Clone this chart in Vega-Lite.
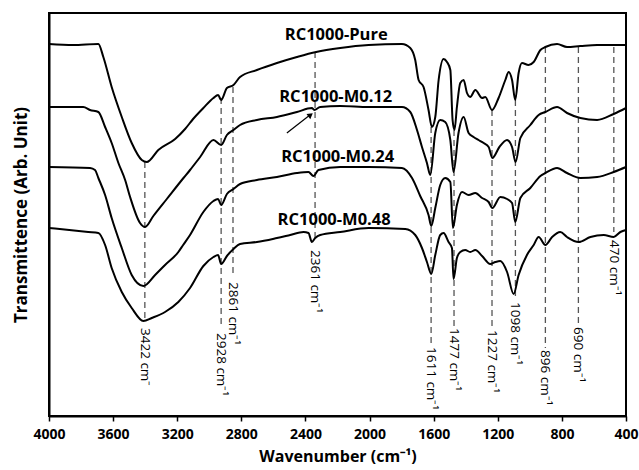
{
  "$schema": "https://vega.github.io/schema/vega-lite/v6.json",
  "width": 577,
  "height": 403,
  "autosize": {"type": "none"},
  "padding": {"left": 49, "top": 13, "right": 13, "bottom": 54},
  "background": "white",
  "config": {
    "view": {"stroke": "black", "strokeWidth": 2},
    "font": "Open Sans"
  },
  "datasets": {
    "spectra": [
      {"c":"P","w":4000,"t":372},{"c":"P","w":3850,"t":371},{"c":"P","w":3692,"t":372},{"c":"P","w":3661,"t":359},{"c":"P","w":3609,"t":329},{"c":"P","w":3546,"t":299},{"c":"P","w":3484,"t":273},{"c":"P","w":3421,"t":256},{"c":"P","w":3390,"t":254},{"c":"P","w":3318,"t":266},{"c":"P","w":3213,"t":277},{"c":"P","w":3151,"t":287},{"c":"P","w":3101,"t":297},{"c":"P","w":3037,"t":308},{"c":"P","w":2974,"t":318},{"c":"P","w":2945,"t":321},{"c":"P","w":2926,"t":316},{"c":"P","w":2890,"t":328},{"c":"P","w":2849,"t":331},{"c":"P","w":2808,"t":339},{"c":"P","w":2703,"t":346},{"c":"P","w":2578,"t":353},{"c":"P","w":2453,"t":359},{"c":"P","w":2333,"t":364},{"c":"P","w":2183,"t":368},{"c":"P","w":2006,"t":371},{"c":"P","w":1798,"t":372},{"c":"P","w":1746,"t":368},{"c":"P","w":1715,"t":356},{"c":"P","w":1694,"t":336},{"c":"P","w":1663,"t":329},{"c":"P","w":1632,"t":306},{"c":"P","w":1611,"t":289},{"c":"P","w":1590,"t":299},{"c":"P","w":1569,"t":336},{"c":"P","w":1538,"t":357},{"c":"P","w":1517,"t":354},{"c":"P","w":1496,"t":346},{"c":"P","w":1482,"t":296},{"c":"P","w":1470,"t":286},{"c":"P","w":1455,"t":309},{"c":"P","w":1434,"t":333},{"c":"P","w":1413,"t":336},{"c":"P","w":1392,"t":323},{"c":"P","w":1372,"t":319},{"c":"P","w":1340,"t":326},{"c":"P","w":1298,"t":318},{"c":"P","w":1278,"t":319},{"c":"P","w":1236,"t":306},{"c":"P","w":1195,"t":318},{"c":"P","w":1153,"t":336},{"c":"P","w":1132,"t":344},{"c":"P","w":1111,"t":336},{"c":"P","w":1091,"t":316},{"c":"P","w":1070,"t":343},{"c":"P","w":1049,"t":353},{"c":"P","w":1008,"t":351},{"c":"P","w":976,"t":354},{"c":"P","w":934,"t":366},{"c":"P","w":903,"t":369},{"c":"P","w":830,"t":372},{"c":"P","w":768,"t":369},{"c":"P","w":685,"t":370},{"c":"P","w":580,"t":371},{"c":"P","w":477,"t":371},{"c":"P","w":400,"t":371},

      {"c":"A","w":4000,"t":309},{"c":"A","w":3786,"t":309},{"c":"A","w":3744,"t":306},{"c":"A","w":3692,"t":304},{"c":"A","w":3650,"t":289},{"c":"A","w":3609,"t":273},{"c":"A","w":3567,"t":253},{"c":"A","w":3525,"t":236},{"c":"A","w":3494,"t":219},{"c":"A","w":3432,"t":193},{"c":"A","w":3401,"t":189},{"c":"A","w":3349,"t":200},{"c":"A","w":3265,"t":217},{"c":"A","w":3161,"t":238},{"c":"A","w":3120,"t":246},{"c":"A","w":3057,"t":259},{"c":"A","w":2974,"t":276},{"c":"A","w":2926,"t":271},{"c":"A","w":2890,"t":281},{"c":"A","w":2849,"t":286},{"c":"A","w":2808,"t":291},{"c":"A","w":2703,"t":296},{"c":"A","w":2578,"t":299},{"c":"A","w":2453,"t":304},{"c":"A","w":2360,"t":308},{"c":"A","w":2345,"t":306},{"c":"A","w":2308,"t":309},{"c":"A","w":2183,"t":310},{"c":"A","w":2006,"t":309},{"c":"A","w":1798,"t":309},{"c":"A","w":1746,"t":304},{"c":"A","w":1704,"t":286},{"c":"A","w":1673,"t":269},{"c":"A","w":1642,"t":253},{"c":"A","w":1621,"t":241},{"c":"A","w":1590,"t":283},{"c":"A","w":1559,"t":296},{"c":"A","w":1528,"t":294},{"c":"A","w":1496,"t":276},{"c":"A","w":1476,"t":244},{"c":"A","w":1445,"t":283},{"c":"A","w":1413,"t":299},{"c":"A","w":1382,"t":283},{"c":"A","w":1351,"t":279},{"c":"A","w":1320,"t":276},{"c":"A","w":1288,"t":273},{"c":"A","w":1257,"t":269},{"c":"A","w":1234,"t":258},{"c":"A","w":1190,"t":269},{"c":"A","w":1142,"t":276},{"c":"A","w":1111,"t":269},{"c":"A","w":1089,"t":254},{"c":"A","w":1059,"t":278},{"c":"A","w":997,"t":291},{"c":"A","w":945,"t":301},{"c":"A","w":903,"t":304},{"c":"A","w":830,"t":309},{"c":"A","w":768,"t":303},{"c":"A","w":685,"t":298},{"c":"A","w":580,"t":296},{"c":"A","w":477,"t":302},{"c":"A","w":400,"t":308},

      {"c":"B","w":4000,"t":249},{"c":"B","w":3744,"t":248},{"c":"B","w":3713,"t":246},{"c":"B","w":3692,"t":238},{"c":"B","w":3650,"t":221},{"c":"B","w":3609,"t":198},{"c":"B","w":3546,"t":168},{"c":"B","w":3484,"t":141},{"c":"B","w":3411,"t":130},{"c":"B","w":3338,"t":141},{"c":"B","w":3276,"t":151},{"c":"B","w":3193,"t":164},{"c":"B","w":3163,"t":171},{"c":"B","w":3120,"t":181},{"c":"B","w":3037,"t":204},{"c":"B","w":2974,"t":215},{"c":"B","w":2945,"t":217},{"c":"B","w":2926,"t":211},{"c":"B","w":2890,"t":222},{"c":"B","w":2849,"t":227},{"c":"B","w":2808,"t":232},{"c":"B","w":2703,"t":236},{"c":"B","w":2578,"t":239},{"c":"B","w":2453,"t":243},{"c":"B","w":2381,"t":244},{"c":"B","w":2350,"t":240},{"c":"B","w":2319,"t":246},{"c":"B","w":2183,"t":249},{"c":"B","w":2006,"t":249},{"c":"B","w":1798,"t":248},{"c":"B","w":1735,"t":238},{"c":"B","w":1684,"t":220},{"c":"B","w":1632,"t":201},{"c":"B","w":1615,"t":190},{"c":"B","w":1590,"t":208},{"c":"B","w":1559,"t":231},{"c":"B","w":1528,"t":238},{"c":"B","w":1496,"t":234},{"c":"B","w":1480,"t":188},{"c":"B","w":1455,"t":211},{"c":"B","w":1423,"t":224},{"c":"B","w":1382,"t":221},{"c":"B","w":1340,"t":223},{"c":"B","w":1298,"t":218},{"c":"B","w":1257,"t":214},{"c":"B","w":1234,"t":208},{"c":"B","w":1184,"t":219},{"c":"B","w":1142,"t":217},{"c":"B","w":1111,"t":213},{"c":"B","w":1091,"t":194},{"c":"B","w":1059,"t":218},{"c":"B","w":997,"t":228},{"c":"B","w":934,"t":240},{"c":"B","w":903,"t":243},{"c":"B","w":830,"t":248},{"c":"B","w":768,"t":243},{"c":"B","w":685,"t":238},{"c":"B","w":580,"t":239},{"c":"B","w":477,"t":244},{"c":"B","w":400,"t":249},

      {"c":"C","w":4000,"t":188},{"c":"C","w":3755,"t":184},{"c":"C","w":3692,"t":183},{"c":"C","w":3650,"t":171},{"c":"C","w":3609,"t":148},{"c":"C","w":3546,"t":124},{"c":"C","w":3484,"t":108},{"c":"C","w":3411,"t":95},{"c":"C","w":3359,"t":98},{"c":"C","w":3276,"t":104},{"c":"C","w":3193,"t":114},{"c":"C","w":3120,"t":128},{"c":"C","w":3037,"t":150},{"c":"C","w":2974,"t":159},{"c":"C","w":2945,"t":161},{"c":"C","w":2926,"t":152},{"c":"C","w":2890,"t":160},{"c":"C","w":2849,"t":167},{"c":"C","w":2808,"t":172},{"c":"C","w":2703,"t":174},{"c":"C","w":2578,"t":178},{"c":"C","w":2495,"t":181},{"c":"C","w":2412,"t":184},{"c":"C","w":2381,"t":183},{"c":"C","w":2360,"t":174},{"c":"C","w":2339,"t":178},{"c":"C","w":2308,"t":181},{"c":"C","w":2183,"t":184},{"c":"C","w":2006,"t":188},{"c":"C","w":1777,"t":187},{"c":"C","w":1715,"t":181},{"c":"C","w":1673,"t":168},{"c":"C","w":1642,"t":154},{"c":"C","w":1615,"t":142},{"c":"C","w":1590,"t":161},{"c":"C","w":1559,"t":181},{"c":"C","w":1538,"t":183},{"c":"C","w":1507,"t":174},{"c":"C","w":1486,"t":168},{"c":"C","w":1476,"t":137},{"c":"C","w":1455,"t":158},{"c":"C","w":1434,"t":164},{"c":"C","w":1403,"t":166},{"c":"C","w":1372,"t":164},{"c":"C","w":1340,"t":166},{"c":"C","w":1298,"t":160},{"c":"C","w":1247,"t":152},{"c":"C","w":1215,"t":154},{"c":"C","w":1184,"t":155},{"c":"C","w":1142,"t":144},{"c":"C","w":1101,"t":122},{"c":"C","w":1070,"t":141},{"c":"C","w":1018,"t":161},{"c":"C","w":976,"t":171},{"c":"C","w":945,"t":179},{"c":"C","w":903,"t":171},{"c":"C","w":861,"t":179},{"c":"C","w":810,"t":184},{"c":"C","w":768,"t":179},{"c":"C","w":695,"t":174},{"c":"C","w":622,"t":179},{"c":"C","w":539,"t":181},{"c":"C","w":477,"t":179},{"c":"C","w":435,"t":184},{"c":"C","w":400,"t":186}
    ],
    "peaks": [
      {"pos":3402,"top":254,"bot":94,"ly":88,"label":"3422 cm⁻"},
      {"pos":2926,"top":318,"bot":89,"ly":83,"label":"2928 cm⁻¹"},
      {"pos":2852,"top":329,"bot":139,"ly":134,"label":"2861 cm⁻¹"},
      {"pos":2340,"top":364,"bot":174,"ly":166,"label":"2361 cm⁻¹"},
      {"pos":1616,"top":289,"bot":71,"ly":69,"label":"1611 cm⁻¹"},
      {"pos":1473,"top":286,"bot":90,"ly":88,"label":"1477 cm⁻¹"},
      {"pos":1236,"top":306,"bot":88,"ly":86,"label":"1227 cm⁻¹"},
      {"pos":1090,"top":316,"bot":120,"ly":114,"label":"1098 cm⁻¹"},
      {"pos":903,"top":369,"bot":68,"ly":66,"label":"896 cm⁻¹"},
      {"pos":697,"top":369,"bot":91,"ly":89,"label":"690 cm⁻¹"},
      {"pos":476,"top":369,"bot":184,"ly":176,"label":"470 cm⁻¹"}
    ],
    "names": [
      {"name":"RC1000-Pure","w":2208,"t":381},
      {"name":"RC1000-M0.12","w":2211,"t":319},
      {"name":"RC1000-M0.24","w":2199,"t":259},
      {"name":"RC1000-M0.48","w":2221,"t":196}
    ],
    "arrow": [
      {"w1":2516,"t1":283,"w2":2372,"t2":301}
    ],
    "head": [
      {"w":2368,"t":301}
    ]
  },
  "layer": [
    {
      "data": {"name": "peaks"},
      "mark": {"type": "rule", "color": "#555555", "strokeWidth": 1.3, "strokeDash": [6, 4]},
      "encoding": {
        "x": {"field": "pos", "type": "quantitative"},
        "y": {"field": "top", "type": "quantitative"},
        "y2": {"field": "bot"}
      }
    },
    {
      "data": {"name": "spectra"},
      "mark": {"type": "line", "color": "black", "strokeWidth": 2, "interpolate": "monotone"},
      "encoding": {
        "x": {
          "field": "w", "type": "quantitative",
          "scale": {"domain": [400, 4000], "reverse": true, "nice": false, "zero": false},
          "axis": {
            "values": [4000,3800,3600,3400,3200,3000,2800,2600,2400,2200,2000,1800,1600,1400,1200,1000,800,600,400],
            "labelExpr": "datum.value % 400 === 0 ? datum.label : ''",
            "format": "d",
            "labelFlush": false,
            "grid": false,
            "tickColor": "black", "tickSize": 5, "tickWidth": 1.5,
            "domainColor": "black", "domainWidth": 2,
            "labelFont": "Open Sans", "labelFontWeight": "bold", "labelFontSize": 14, "labelColor": "black", "labelPadding": 6,
            "title": "Wavenumber (cm⁻¹)",
            "titleFont": "Open Sans", "titleFontWeight": "bold", "titleFontSize": 16, "titleColor": "black", "titlePadding": 7
          }
        },
        "y": {
          "field": "t", "type": "quantitative",
          "scale": {"domain": [0, 403], "nice": false, "zero": false},
          "axis": {
            "ticks": false, "labels": false, "grid": false,
            "domainColor": "black", "domainWidth": 2,
            "title": "Transmittence (Arb. Unit)",
            "titleFont": "Open Sans", "titleFontWeight": "bold", "titleFontSize": 17, "titleColor": "black", "titlePadding": 19
          }
        },
        "detail": {"field": "c", "type": "nominal"}
      }
    },
    {
      "data": {"name": "peaks"},
      "mark": {"type": "text", "angle": 90, "align": "left", "baseline": "middle", "font": "Open Sans", "fontSize": 13.5, "color": "black"},
      "encoding": {
        "x": {"field": "pos", "type": "quantitative"},
        "y": {"field": "ly", "type": "quantitative"},
        "text": {"field": "label"}
      }
    },
    {
      "data": {"name": "names"},
      "mark": {"type": "text", "align": "center", "baseline": "middle", "font": "Open Sans", "fontWeight": "bold", "fontSize": 16.5, "color": "black"},
      "encoding": {
        "x": {"field": "w", "type": "quantitative"},
        "y": {"field": "t", "type": "quantitative"},
        "text": {"field": "name"}
      }
    },
    {
      "data": {"name": "arrow"},
      "mark": {"type": "rule", "color": "black", "strokeWidth": 1.2},
      "encoding": {
        "x": {"field": "w1", "type": "quantitative"},
        "y": {"field": "t1", "type": "quantitative"},
        "x2": {"field": "w2"},
        "y2": {"field": "t2"}
      }
    },
    {
      "data": {"name": "head"},
      "mark": {"type": "point", "shape": "triangle-up", "filled": true, "color": "black", "size": 40, "angle": 53, "opacity": 1},
      "encoding": {
        "x": {"field": "w", "type": "quantitative"},
        "y": {"field": "t", "type": "quantitative"}
      }
    }
  ]
}
